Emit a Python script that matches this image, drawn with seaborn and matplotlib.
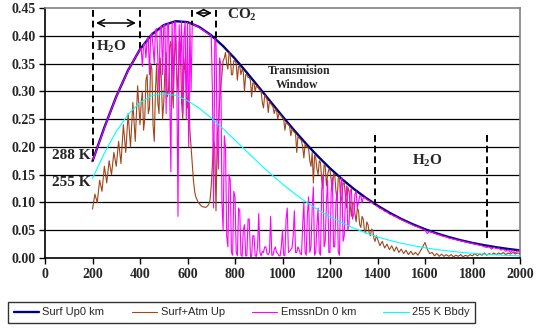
import matplotlib
matplotlib.use("Agg")
import matplotlib.pyplot as plt
import seaborn as sns
import pandas as pd

# ---------------- data ----------------
wn50 = list(range(200, 2001, 50))
# spectral grid: 10 cm-1 steps, 5 cm-1 steps in the 400-1400 band
wn_fine = list(range(200, 400, 10)) + list(range(400, 1400, 5)) + list(range(1400, 2001, 10))

surf_up = [0.1744, 0.2351, 0.2906, 0.3380, 0.3756, 0.4026, 0.4192, 0.4262, 0.4246, 0.4157,
           0.4008, 0.3814, 0.3587, 0.3337, 0.3076, 0.2812, 0.2549, 0.2295, 0.2053, 0.1826,
           0.1615, 0.1421, 0.1245, 0.1085, 0.0943, 0.0816, 0.0703, 0.0605, 0.0518, 0.0442,
           0.0377, 0.0320, 0.0271, 0.0230, 0.0194, 0.0163, 0.0137]

bbdy255 = [0.1432, 0.1887, 0.2279, 0.2586, 0.2799, 0.2922, 0.2960, 0.2927, 0.2833, 0.2693,
           0.2520, 0.2327, 0.2122, 0.1915, 0.1710, 0.1515, 0.1331, 0.1161, 0.1006, 0.0867,
           0.0742, 0.0633, 0.0537, 0.0453, 0.0381, 0.0319, 0.0267, 0.0222, 0.0184, 0.0152,
           0.0126, 0.0103, 0.0085, 0.0069, 0.0057, 0.0046, 0.0038]

surf_atm_up = [
    # 200-390 (10 step)
    0.088, 0.115, 0.100, 0.140, 0.120, 0.165, 0.135, 0.175, 0.150, 0.190,
    0.165, 0.210, 0.170, 0.240, 0.190, 0.260, 0.200, 0.280, 0.210, 0.310,
    # 400-1395 (5 step)
    0.240, 0.280, 0.300, 0.230, 0.250, 0.320, 0.330, 0.260, 0.270, 0.350,
    0.340, 0.240, 0.210, 0.300, 0.350, 0.280, 0.260, 0.360, 0.320, 0.250,
    0.280, 0.340, 0.370, 0.290, 0.300, 0.380, 0.390, 0.310, 0.270, 0.360,
    0.400, 0.330, 0.300, 0.390, 0.380, 0.280, 0.250, 0.330, 0.360, 0.300,
    0.270, 0.310, 0.230, 0.200, 0.170, 0.140, 0.120, 0.110, 0.105, 0.100,
    0.098, 0.095, 0.093, 0.092, 0.092, 0.091, 0.092, 0.094, 0.097, 0.105,
    0.130, 0.170, 0.210, 0.200, 0.085, 0.220, 0.240, 0.280, 0.310, 0.330,
    0.355, 0.360, 0.370, 0.350, 0.340, 0.370, 0.365, 0.330, 0.330, 0.355,
    0.355, 0.350, 0.320, 0.345, 0.345, 0.330, 0.340, 0.335, 0.300, 0.330,
    0.330, 0.325, 0.325, 0.320, 0.290, 0.315, 0.315, 0.300, 0.310, 0.308,
    0.305, 0.302, 0.300, 0.280, 0.270, 0.293, 0.290, 0.285, 0.262, 0.282,
    0.278, 0.275, 0.272, 0.260, 0.268, 0.265, 0.250, 0.260, 0.258, 0.255,
    0.252, 0.250, 0.230, 0.244, 0.242, 0.240, 0.237, 0.220, 0.232, 0.229,
    0.226, 0.224, 0.190, 0.219, 0.216, 0.214, 0.211, 0.200, 0.180, 0.205,
    0.200, 0.200, 0.196, 0.175, 0.165, 0.190, 0.135, 0.185, 0.180, 0.160,
    0.150, 0.175, 0.172, 0.140, 0.125, 0.168, 0.165, 0.130, 0.150, 0.160,
    0.158, 0.140, 0.120, 0.152, 0.150, 0.120, 0.105, 0.145, 0.145, 0.100,
    0.110, 0.135, 0.135, 0.110, 0.090, 0.128, 0.120, 0.095, 0.075, 0.100,
    0.100, 0.080, 0.065, 0.090, 0.085, 0.060, 0.055, 0.075, 0.070, 0.050,
    0.045, 0.065, 0.060, 0.045, 0.040, 0.052, 0.050, 0.035, 0.030, 0.040,
    # 1400-2000 (10 step)
    0.035, 0.022, 0.030, 0.018, 0.025, 0.015, 0.022, 0.012, 0.020, 0.010,
    0.016, 0.008, 0.014, 0.006, 0.012, 0.006, 0.010, 0.005, 0.012, 0.020,
    0.028, 0.015, 0.008, 0.010, 0.004, 0.008, 0.003, 0.007, 0.003, 0.006,
    0.003, 0.006, 0.002, 0.005, 0.003, 0.006, 0.002, 0.005, 0.003, 0.006,
    0.004, 0.008, 0.004, 0.007, 0.005, 0.009, 0.005, 0.008, 0.006, 0.009,
    0.006, 0.009, 0.007, 0.010, 0.006, 0.009, 0.007, 0.010, 0.007, 0.009, 0.008]

emssn_dn = [
    # 200-390 (10 step)
    0.174, 0.186, 0.198, 0.210, 0.222, 0.234, 0.246, 0.257, 0.268, 0.279,
    0.290, 0.300, 0.310, 0.319, 0.328, 0.337, 0.346, 0.353, 0.361, 0.368,
    # 400-1395 (5 step)
    0.375, 0.378, 0.345, 0.384, 0.387, 0.360, 0.395, 0.397, 0.330, 0.400,
    0.405, 0.380, 0.350, 0.410, 0.413, 0.360, 0.300, 0.415, 0.418, 0.330,
    0.419, 0.420, 0.260, 0.421, 0.422, 0.300, 0.155, 0.424, 0.300, 0.425,
    0.425, 0.320, 0.075, 0.420, 0.350, 0.426, 0.260, 0.400, 0.425, 0.250,
    0.424, 0.200, 0.423, 0.300, 0.421, 0.420, 0.419, 0.418, 0.417, 0.416,
    0.414, 0.413, 0.412, 0.410, 0.409, 0.407, 0.406, 0.404, 0.403, 0.402,
    0.400, 0.300, 0.090, 0.395, 0.390, 0.200, 0.160, 0.360, 0.350, 0.100,
    0.050, 0.220, 0.200, 0.040, 0.020, 0.150, 0.140, 0.010, 0.005, 0.120,
    0.110, 0.010, 0.004, 0.090, 0.085, 0.005, 0.003, 0.050, 0.060, 0.004,
    0.004, 0.070, 0.070, 0.003, 0.003, 0.040, 0.040, 0.004, 0.003, 0.020,
    0.080, 0.010, 0.004, 0.012, 0.010, 0.020, 0.020, 0.008, 0.006, 0.010,
    0.075, 0.005, 0.005, 0.015, 0.020, 0.010, 0.008, 0.004, 0.004, 0.020,
    0.050, 0.005, 0.004, 0.070, 0.090, 0.010, 0.012, 0.015, 0.018, 0.040,
    0.085, 0.010, 0.010, 0.020, 0.015, 0.008, 0.006, 0.060, 0.100, 0.010,
    0.005, 0.080, 0.110, 0.010, 0.020, 0.090, 0.128, 0.005, 0.010, 0.060,
    0.090, 0.010, 0.005, 0.120, 0.150, 0.020, 0.030, 0.100, 0.140, 0.010,
    0.010, 0.120, 0.145, 0.020, 0.020, 0.100, 0.120, 0.010, 0.005, 0.130,
    0.145, 0.030, 0.040, 0.110, 0.130, 0.050, 0.060, 0.120, 0.125, 0.070,
    0.080, 0.115, 0.120, 0.090, 0.100, 0.112, 0.112, 0.100, 0.108, 0.109,
    0.107, 0.105, 0.104, 0.103, 0.101, 0.100, 0.098, 0.097, 0.096, 0.094,
    # 1400-2000 (10 step)
    0.093, 0.089, 0.088, 0.084, 0.083, 0.079, 0.078, 0.075, 0.074, 0.071,
    0.069, 0.067, 0.065, 0.063, 0.061, 0.059, 0.057, 0.056, 0.054, 0.052,
    0.050, 0.044, 0.048, 0.046, 0.045, 0.043, 0.042, 0.040, 0.039, 0.038,
    0.036, 0.035, 0.034, 0.033, 0.032, 0.031, 0.030, 0.029, 0.028, 0.027,
    0.026, 0.025, 0.024, 0.023, 0.022, 0.020, 0.019, 0.020, 0.016, 0.019,
    0.017, 0.018, 0.014, 0.016, 0.012, 0.015, 0.010, 0.014, 0.009, 0.013, 0.011]

series_labels = ["Surf Up0 km", "Surf+Atm Up", "EmssnDn 0 km", "255 K Bbdy"]
x_ticks = list(range(0, 2001, 200))
y_ticks = [0.00, 0.05, 0.10, 0.15, 0.20, 0.25, 0.30, 0.35, 0.40, 0.45]

# ---------------- style ----------------
sns.set_style("white")
plt.rcParams["font.family"] = ["Liberation Serif", "DejaVu Serif"]
plt.rcParams["mathtext.fontset"] = "custom"
plt.rcParams["mathtext.rm"] = "Liberation Serif:bold"
plt.rcParams["mathtext.it"] = "Liberation Serif:bold"
plt.rcParams["mathtext.bf"] = "Liberation Serif:bold"

fig = plt.figure(figsize=(5.4, 3.28), dpi=100)
fig.patch.set_facecolor("white")
ax = fig.add_axes([45 / 540, 1 - 258 / 328, 475 / 540, 250 / 328])
ax.set_facecolor("white")

# gridlines (behind data)
ax.hlines(y_ticks[1:-1], 0, 2000, colors="black", linewidth=0.9, zorder=0.5)

df_s = pd.DataFrame({"wn": wn50, "up": surf_up, "bb": bbdy255})
df_f = pd.DataFrame({"wn": wn_fine, "atm": surf_atm_up, "dn": emssn_dn})

sns.lineplot(data=df_s, x="wn", y="up", ax=ax, color="#000080", linewidth=1.7,
             label=series_labels[0], zorder=2)
sns.lineplot(data=df_f, x="wn", y="atm", ax=ax, color="#A0461A", linewidth=0.8,
             label=series_labels[1], zorder=3)
sns.lineplot(data=df_f, x="wn", y="dn", ax=ax, color="#FF00FF", linewidth=0.8,
             label=series_labels[2], zorder=4)
sns.lineplot(data=df_s, x="wn", y="bb", ax=ax, color="#00FFFF", linewidth=0.8,
             label=series_labels[3], zorder=5)

ax.set_xlim(0, 2000)
ax.set_ylim(0, 0.45)
ax.set_xticks(x_ticks)
ax.set_yticks(y_ticks)
ax.set_xticklabels([str(t) for t in x_ticks])
ax.set_yticklabels([f"{t:.2f}" for t in y_ticks])
ax.set_xlabel("")
ax.set_ylabel("")
for lab in ax.get_xticklabels() + ax.get_yticklabels():
    lab.set_fontweight("bold")
    lab.set_fontsize(10)
ax.tick_params(axis="both", direction="out", length=4, width=1, color="black", pad=3,
               bottom=True, left=True)

for s in ["left", "bottom"]:
    ax.spines[s].set_color("black")
    ax.spines[s].set_linewidth(1.2)
for s in ["top", "right"]:
    ax.spines[s].set_color("#808080")
    ax.spines[s].set_linewidth(1.2)

# ---------------- annotations ----------------
dash = dict(color="black", linewidth=1.4, linestyle=(0, (3.5, 2)), zorder=6)
ax.plot([200, 200], [0.447, 0.175], **dash)
ax.plot([400, 400], [0.447, 0.378], **dash)
ax.plot([618, 618], [0.447, 0.420], **dash)
ax.plot([718, 718], [0.447, 0.390], **dash)
ax.plot([1390, 1390], [0.222, 0.095], **dash)
ax.plot([1860, 1860], [0.222, 0.030], **dash)

arrow = dict(arrowstyle="<->,head_length=0.5,head_width=0.25", color="black", lw=1.1)
ax.annotate("", xy=(203, 0.423), xytext=(395, 0.423), arrowprops=arrow, zorder=7)
ax.annotate("", xy=(621, 0.441), xytext=(715, 0.441), arrowprops=arrow, zorder=7)

tkw = dict(fontweight="bold", fontsize=11, zorder=8)
ax.text(215, 0.379, "H$_\\mathrm{2}$O", ha="left", va="center", **tkw)
ax.text(768, 0.438, "CO$_\\mathrm{2}$", ha="left", va="center", **tkw)
ax.text(1612, 0.175, "H$_\\mathrm{2}$O", ha="center", va="center", **tkw)
ax.text(190, 0.185, "288 K", ha="right", va="center", **tkw)
ax.text(190, 0.135, "255 K", ha="right", va="center", **tkw)
ax.text(1070, 0.337, "Transmision", ha="center", va="center", fontweight="bold",
        fontsize=8.5, zorder=8)
ax.text(1063, 0.311, "Window", ha="center", va="center", fontweight="bold",
        fontsize=8.5, zorder=8)

# ---------------- legend ----------------
leg = ax.legend(loc="lower left", bbox_to_anchor=(8 / 540, 5 / 328),
                bbox_transform=fig.transFigure, ncol=4, frameon=True, fancybox=False,
                edgecolor="black", prop={"family": "Liberation Sans", "size": 8},
                handlelength=2.3, handletextpad=0.3, columnspacing=2.45,
                borderpad=0.5, borderaxespad=0)
leg.get_frame().set_linewidth(1.0)

fig.savefig("out.png", dpi=100, facecolor="white")
